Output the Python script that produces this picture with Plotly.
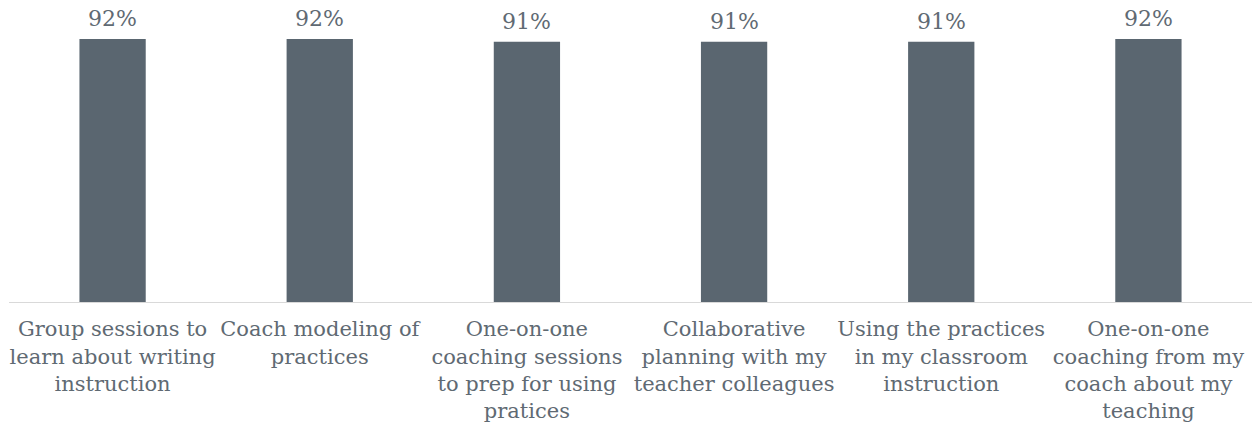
import plotly.graph_objects as go

categories = [
    "Group sessions to<br>learn about writing<br>instruction",
    "Coach modeling of<br>practices",
    "One-on-one<br>coaching sessions<br>to prep for using<br>pratices",
    "Collaborative<br>planning with my<br>teacher colleagues",
    "Using the practices<br>in my classroom<br>instruction",
    "One-on-one<br>coaching from my<br>coach about my<br>teaching",
]
values = [92, 92, 91, 91, 91, 92]
labels = [f"{v}%" for v in values]

BAR = "#5a6670"
TEXT = "#5f6a73"
FONT = "DejaVu Serif"

fig = go.Figure(
    go.Bar(
        x=categories,
        y=values,
        marker=dict(color=BAR, line=dict(width=0)),
        cliponaxis=False,
        hovertemplate="%{y}%<extra></extra>",
    )
)

# value labels sitting above each bar
for cat, val, lab in zip(categories, values, labels):
    fig.add_annotation(
        x=cat,
        y=val,
        text=lab,
        showarrow=False,
        yanchor="bottom",
        yshift=6,
        font=dict(family=FONT, size=22, color=TEXT),
    )

fig.update_layout(
    width=1257,
    height=440,
    margin=dict(l=9, r=5, t=16, b=138),
    paper_bgcolor="white",
    plot_bgcolor="white",
    bargap=0.68,
    showlegend=False,
    font=dict(family=FONT, size=21, color=TEXT),
)
fig.update_xaxes(
    showline=True,
    linecolor="#d9d9d9",
    linewidth=1,
    ticks="",
    ticklabelstandoff=8,
    tickfont=dict(family=FONT, size=21, color=TEXT),
    showgrid=False,
)
fig.update_yaxes(range=[0, 100], visible=False, showgrid=False)

fig.write_html("out.html")
